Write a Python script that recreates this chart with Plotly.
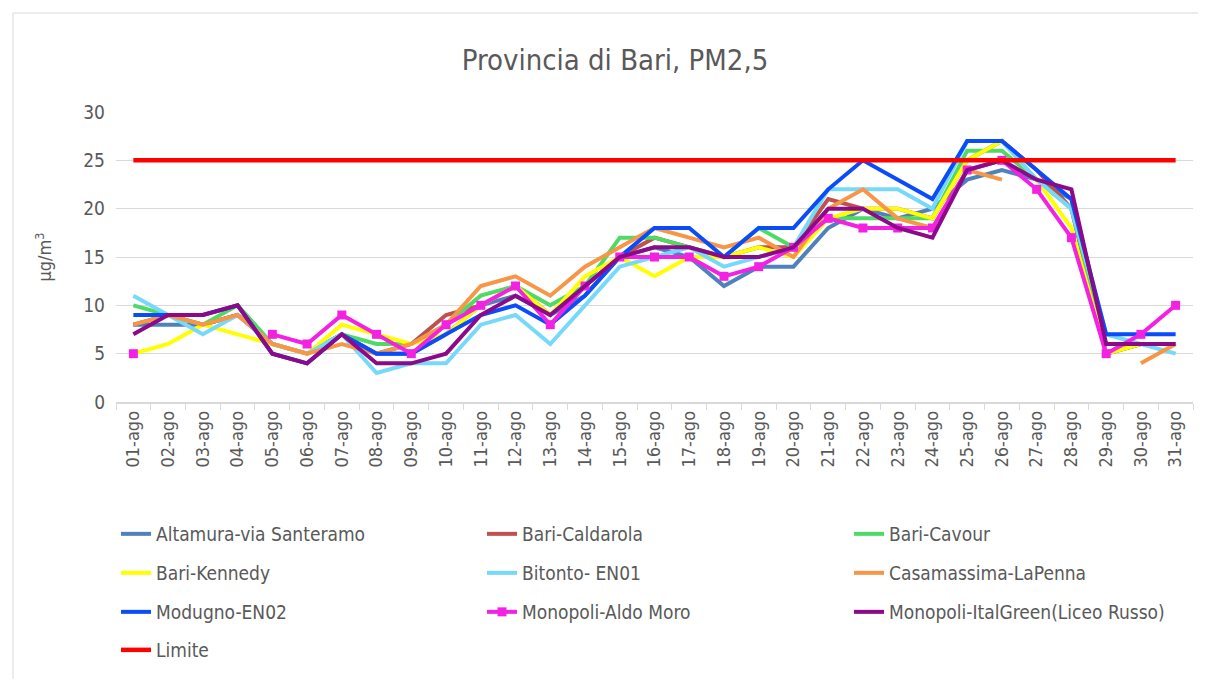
import plotly.graph_objects as go

days = [f"{d:02d}-ago" for d in range(1, 32)]

altamura = [8, 8, 8, 9, 6, 5, 7, 5, 5, 7, 10, 11, 9, 11, 15, 16, 15, 12, 14, 14, 18, 20, 19, 20, 23, 24, 23, 21, 5, 6, 6]
caldarola = [8, 9, 8, 9, 6, 5, 7, 5, 6, 9, 10, 12, 9, 12, 15, 17, 16, 15, 16, 16, 21, 20, 20, 19, 25, 27, 24, 20, 5, 6, 6]
cavour = [10, 9, 8, 10, 6, 5, 7, 6, 6, 8, 11, 12, 10, 12, 17, 17, 16, 15, 18, 16, 19, 19, 19, 19, 26, 26, 23, 20, 6, 6, 6]
kennedy = [5, 6, 8, 7, 6, 5, 8, 7, 6, 7, 10, 12, 9, 13, 15, 13, 15, 15, 16, 15, 19, 20, 20, 19, 25, 27, 23, 18, 5, 6, 6]
bitonto = [11, 9, 7, 9, 6, 5, 7, 3, 4, 4, 8, 9, 6, 10, 14, 15, 16, 14, 15, 16, 22, 22, 22, 20, 27, 27, 23, 20, 7, 6, 5]
casamassima = [8, 9, 8, 9, 6, 5, 6, 5, 6, 8, 12, 13, 11, 14, 16, 18, 17, 16, 17, 15, 20, 22, 19, 18, 24, 23, None, None, None, 4, 6]
modugno = [9, 9, 9, 10, 5, 4, 7, 5, 5, 7, 9, 10, 8, 11, 15, 18, 18, 15, 18, 18, 22, 25, 23, 21, 27, 27, 24, 21, 7, 7, 7]
aldo_moro = [5, None, None, None, 7, 6, 9, 7, 5, 8, 10, 12, 8, 12, 15, 15, 15, 13, 14, 16, 19, 18, 18, 18, 24, 25, 22, 17, 5, 7, 10]
italgreen = [7, 9, 9, 10, 5, 4, 7, 4, 4, 5, 9, 11, 9, 12, 15, 16, 16, 15, 15, 16, 20, 20, 18, 17, 24, 25, 23, 22, 6, 6, 6]
limite = [25] * 31

series_names = ["Altamura-via Santeramo", "Bari-Caldarola", "Bari-Cavour", "Bari-Kennedy",
                "Bitonto- EN01", "Casamassima-LaPenna", "Modugno-EN02", "Monopoli-Aldo Moro",
                "Monopoli-ItalGreen(Liceo Russo)", "Limite"]
series_values = [altamura, caldarola, cavour, kennedy, bitonto, casamassima, modugno,
                 aldo_moro, italgreen, limite]
colors = ["#4F81BD", "#C0504D", "#4FDA66", "#FFFF00", "#77D9FA", "#F79646", "#0A4BFA",
          "#F322E3", "#8B0A8A", "#FF0000"]

FONT = "DejaVu Sans Condensed, Liberation Sans Narrow, sans-serif"
GRAY = "#595959"

# page is drawn with an 8px body margin: work in figure coords = screen - 8
OFF = 8
W, H = 1206 - 2 * OFF, 687 - 2 * OFF
L, T = 116 - OFF, 112 - OFF
R = W - (1193 - OFF)
B = H - (402 - OFF)
pw, ph = W - L - R, H - T - B


def px_x(sx):
    return (sx - OFF - L) / pw


def px_y(sy):
    return (H - B - (sy - OFF)) / ph


col_text_x = [157, 523, 890]
row_y = [534, 573, 612, 650]

fig = go.Figure()
layout_legends = {}
for i, (name, vals, color) in enumerate(zip(series_names, series_values, colors)):
    row, col = divmod(i, 3)
    leg = "legend" if i == 0 else f"legend{i + 1}"
    kw = dict(mode="lines")
    width = 4
    if name == "Limite":
        width = 4.5
    if name == "Monopoli-Aldo Moro":
        kw = dict(mode="lines+markers", marker=dict(symbol="square", size=9, color=color))
    fig.add_trace(go.Scatter(
        x=days, y=vals, name=name, line=dict(color=color, width=width),
        connectgaps=False, legend=leg, showlegend=True, **kw))
    layout_legends[leg] = dict(
        x=px_x(col_text_x[col] - 41), y=px_y(row_y[row]), xanchor="left", yanchor="middle",
        orientation="h", font=dict(family=FONT, size=19, color=GRAY),
        bgcolor="rgba(0,0,0,0)", borderwidth=0, visible=True)

fig.update_layout(
    width=W, height=H,
    showlegend=True,
    margin=dict(l=L, r=R, t=T, b=B, autoexpand=False),
    paper_bgcolor="white", plot_bgcolor="white",
    title=dict(text="Provincia di Bari, PM2,5", x=(615 - OFF) / W, xanchor="center",
               y=1 - (60 - OFF) / H, yanchor="middle",
               font=dict(family=FONT, size=29, color=GRAY)),
    xaxis=dict(type="category", range=[-0.5, 30.5], tickangle=-90,
               tickson="boundaries", ticks="outside", ticklen=6, tickcolor="#D9D9D9",
               showline=True, linecolor="#D9D9D9", linewidth=1.5, showgrid=False,
               tickfont=dict(family=FONT, size=18, color=GRAY)),
    yaxis=dict(range=[0, 30], dtick=5, showgrid=True, gridcolor="#D9D9D9", gridwidth=1,
               zeroline=False, showline=False, ticks="", ticklabelstandoff=10,
               tickfont=dict(family=FONT, size=19, color=GRAY),
               title=dict(text="µg/m<sup>3</sup>", font=dict(family=FONT, size=18, color=GRAY), standoff=26)),
    shapes=[
        dict(type="line", xref="paper", yref="paper", x0=px_x(13), x1=px_x(13), y0=px_y(13), y1=px_y(700),
             line=dict(color="#D9D9D9", width=1), layer="below"),
        dict(type="line", xref="paper", yref="paper", x0=px_x(13), x1=px_x(1220), y0=px_y(13), y1=px_y(13),
             line=dict(color="#D9D9D9", width=1), layer="below"),
    ],
    **layout_legends,
)

fig.write_html("out.html")
